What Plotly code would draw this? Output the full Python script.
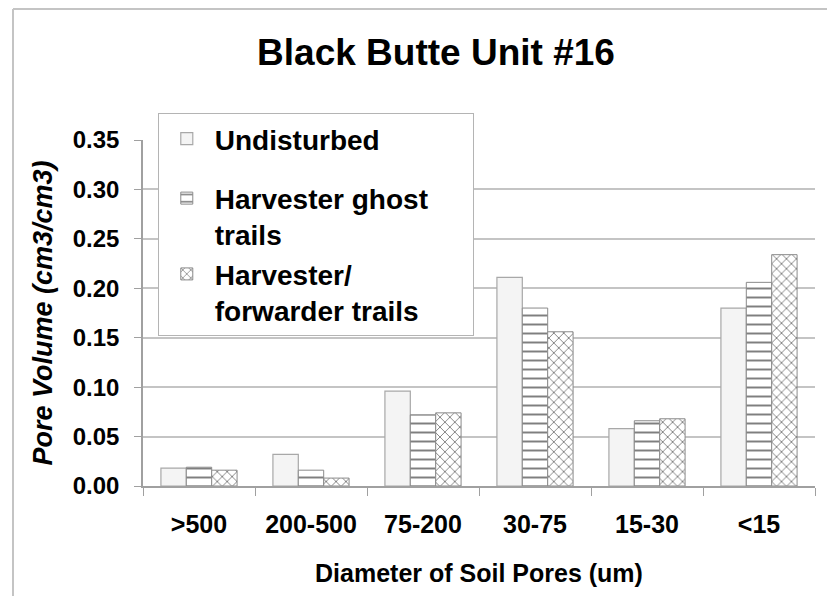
import plotly.graph_objects as go

categories = [">500", "200-500", "75-200", "30-75", "15-30", "<15"]
undisturbed = [0.018, 0.032, 0.096, 0.211, 0.058, 0.180]
ghost_trails = [0.019, 0.016, 0.072, 0.180, 0.066, 0.206]
forwarder_trails = [0.016, 0.008, 0.074, 0.156, 0.068, 0.234]
y_ticks = [0.00, 0.05, 0.10, 0.15, 0.20, 0.25, 0.30, 0.35]

FONT = "Liberation Sans, Arial, sans-serif"

fig = go.Figure()
fig.add_trace(go.Bar(
    name="Undisturbed", x=categories, y=undisturbed, legendgroup="a",
    marker=dict(color="#f4f4f4", line=dict(color="#a8a8a8", width=1.2)),
))
fig.add_trace(go.Bar(
    name="Harvester ghost\u00a0\u00a0\u00a0\u00a0\u00a0<br>trails", x=categories, y=ghost_trails,
    legendgroup="b",
    marker=dict(color="white", line=dict(color="#8a8a8a", width=1),
                pattern=dict(shape="-", fgcolor="black", bgcolor="white",
                             size=9, solidity=0.22)),
))
fig.add_trace(go.Bar(
    name="Harvester/<br>forwarder trails", x=categories, y=forwarder_trails, legendgroup="b",
    marker=dict(color="white", line=dict(color="#8a8a8a", width=1),
                pattern=dict(shape="x", fgcolor="black", bgcolor="white",
                             size=7, solidity=0.25)),
))

# plot area in page pixels: x 143..815, y 140..486 (page has 8px body offset)
L, T = 135, 132
PW, PH = 672, 346

fig.update_layout(
    width=835, height=596,
    margin=dict(l=L, r=835 - L - PW, t=T, b=596 - T - PH),
    paper_bgcolor="white", plot_bgcolor="white",
    barmode="group", bargap=0.32, bargroupgap=0,
    font=dict(family=FONT, color="black"),
    title=dict(text="<b>Black Butte Unit #16</b>", x=428 / 835, xanchor="center",
               y=1 - 44 / 596, yanchor="middle", yref="container",
               font=dict(size=37, family=FONT, color="black")),
    legend=dict(x=0.022, y=1.078, xanchor="left", yanchor="top",
                bgcolor="white", bordercolor="#b4b4b4", borderwidth=1,
                font=dict(size=28, family=FONT, color="black", weight="bold"),
                valign="top", tracegroupgap=20, traceorder="grouped",
                itemwidth=46),
    xaxis=dict(
        type="category", tickson="boundaries", ticks="outside", ticklen=8,
        tickcolor="#a0a0a0", showline=True, linecolor="#a0a0a0", linewidth=1.5,
        tickfont=dict(size=25, family=FONT, color="black", weight="bold"),
        ticklabelstandoff=15,
        title=dict(text="<b>Diameter of Soil Pores (um)</b>", standoff=28,
                   font=dict(size=25, family=FONT, color="black")),
    ),
    yaxis=dict(
        range=[0, 0.35], tickvals=y_ticks, tickformat=".2f",
        ticks="outside", ticklen=7, tickcolor="#a0a0a0",
        showline=True, linecolor="#a0a0a0", linewidth=1.5,
        showgrid=True, gridcolor="#c4c4c4", gridwidth=1.5, zeroline=False,
        tickfont=dict(size=24, family=FONT, color="black", weight="bold"),
        ticklabelstandoff=10,
        title=dict(text="<b><i>Pore Volume (cm3/cm3)</i></b>", standoff=12,
                   font=dict(size=27, family=FONT, color="black")),
    ),
    shapes=[
        dict(type="line", xref="paper", yref="paper",
             x0=(13 - 143) / PW, x1=(13 - 143) / PW,
             y0=(486 - 9) / PH, y1=(486 - 640) / PH,
             line=dict(color="#c4c4c4", width=2)),
        dict(type="line", xref="paper", yref="paper",
             x0=(13 - 143) / PW, x1=(880 - 143) / PW,
             y0=(486 - 9) / PH, y1=(486 - 9) / PH,
             line=dict(color="#c4c4c4", width=2)),
    ],
)

fig.write_html("out.html")
